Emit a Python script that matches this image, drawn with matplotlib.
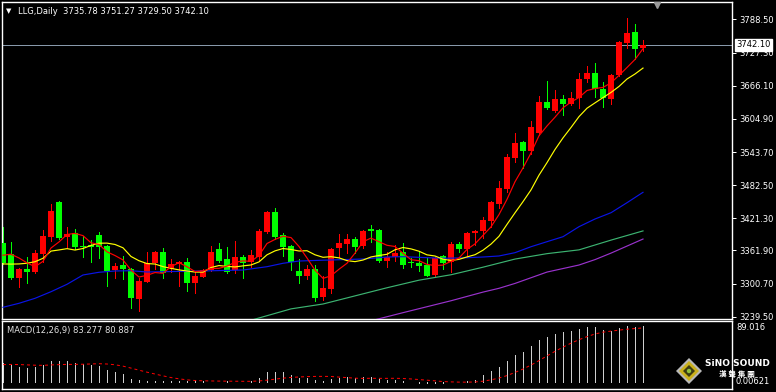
import numpy as np
import pandas as pd
import matplotlib
matplotlib.use("Agg")
import matplotlib.pyplot as plt
from matplotlib.patches import Polygon, Circle
from matplotlib.transforms import blended_transform_factory

# daily candles, LLG (red = up, green = down)
opens = [3376.2, 3354.8, 3311.6, 3328.2, 3322.7, 3355.9, 3387.3, 3452.0, 3387.3, 3393.6,
         3370.1, 3372.0, 3390.5, 3370.1, 3325.8, 3335.0, 3327.7, 3272.2, 3304.2, 3338.2,
         3359.1, 3327.7, 3336.9, 3340.6, 3302.4, 3313.4, 3325.8, 3364.6, 3346.1, 3325.8,
         3349.8, 3341.1, 3350.4, 3396.5, 3432.4, 3390.5, 3370.1, 3324.0, 3315.3, 3327.7,
         3275.4, 3290.7, 3367.0, 3373.8, 3382.5, 3370.7, 3401.5, 3399.7, 3342.4, 3350.4,
         3359.6, 3341.1, 3339.3, 3335.0, 3316.6, 3351.7, 3341.1, 3373.8, 3364.0, 3393.6,
         3397.8, 3416.3, 3447.7, 3474.9, 3533.2, 3562.8, 3545.6, 3578.3, 3636.7, 3619.5,
         3641.6, 3632.4, 3642.9, 3678.6, 3690.2, 3660.1, 3641.6, 3686.0, 3745.6, 3764.8,
         3735.78]
highs = [3405.8, 3378.1, 3330.0, 3350.4, 3362.7, 3399.7, 3447.7, 3453.3, 3405.8, 3401.5,
         3388.6, 3381.2, 3396.6, 3372.0, 3338.2, 3351.7, 3330.1, 3310.5, 3359.6, 3360.9,
         3365.9, 3346.1, 3342.4, 3347.4, 3324.0, 3327.1, 3370.1, 3376.2, 3368.8, 3379.4,
         3353.5, 3362.7, 3401.0, 3435.3, 3439.8, 3394.7, 3372.0, 3345.6, 3335.0, 3335.0,
         3314.7, 3366.0, 3392.3, 3392.3, 3387.3, 3399.7, 3408.9, 3401.0, 3359.6, 3372.0,
         3376.2, 3347.4, 3359.6, 3347.4, 3350.4, 3353.5, 3378.1, 3378.1, 3396.6, 3399.7,
         3423.2, 3453.0, 3490.2, 3540.1, 3578.3, 3564.0, 3601.6, 3647.2, 3674.9, 3658.3,
         3649.0, 3655.1, 3689.1, 3703.2, 3708.7, 3672.5, 3687.0, 3748.8, 3791.8, 3780.2,
         3751.27]
lows = [3337.0, 3308.6, 3295.0, 3302.4, 3321.0, 3341.1, 3379.9, 3383.0, 3365.9, 3364.0,
        3349.3, 3341.1, 3347.4, 3296.8, 3311.6, 3309.2, 3255.1, 3250.6, 3303.1, 3327.7,
        3310.5, 3322.7, 3296.8, 3287.6, 3283.9, 3312.3, 3324.0, 3341.1, 3320.8, 3320.8,
        3310.5, 3331.9, 3344.3, 3393.6, 3382.5, 3352.2, 3325.8, 3302.4, 3308.6, 3268.5,
        3270.4, 3282.8, 3350.4, 3356.7, 3356.7, 3365.9, 3378.1, 3341.1, 3331.9, 3343.0,
        3330.1, 3331.9, 3324.0, 3314.0, 3313.4, 3327.1, 3322.7, 3359.6, 3350.4, 3372.0,
        3384.4, 3405.8, 3439.8, 3470.4, 3525.8, 3513.6, 3540.1, 3575.2, 3624.0, 3618.2,
        3612.1, 3630.6, 3625.6, 3673.6, 3645.9, 3627.4, 3631.9, 3685.0, 3735.8, 3715.5,
        3729.50]
closes = [3339.3, 3311.6, 3328.2, 3322.7, 3357.8, 3388.6, 3434.8, 3384.4, 3391.7, 3367.7,
          3367.7, 3368.8, 3368.8, 3324.0, 3333.2, 3327.1, 3274.6, 3305.5, 3339.3, 3359.1,
          3319.7, 3336.9, 3341.1, 3302.4, 3314.7, 3325.3, 3359.1, 3343.0, 3322.7, 3349.8,
          3339.3, 3353.5, 3397.8, 3433.5, 3387.3, 3368.8, 3341.1, 3315.3, 3327.7, 3274.6,
          3293.1, 3364.6, 3376.2, 3382.5, 3368.8, 3397.8, 3398.4, 3342.4, 3349.8, 3357.8,
          3335.0, 3339.3, 3333.2, 3315.3, 3347.4, 3339.3, 3373.8, 3364.0, 3394.7, 3398.4,
          3418.2, 3452.0, 3477.8, 3535.1, 3560.9, 3545.6, 3590.5, 3636.7, 3625.6, 3641.6,
          3632.4, 3644.0, 3678.6, 3690.2, 3659.6, 3642.9, 3686.0, 3747.5, 3763.0, 3734.0,
          3742.10]
# closes before the visible window (for the short averages)
prior_closes = [3315, 3325, 3310, 3330, 3325, 3302, 3363, 3368, 3393]

# longer averages
blue_idx = [0, 2, 4, 6, 8, 10, 12, 14, 16, 18, 20, 25, 30, 33, 35, 37, 40, 45, 48, 50,
            55, 58, 60, 62, 64, 66, 68, 70, 72, 74, 76, 78, 80]
blue_val = [3256.9, 3264.3, 3273.5, 3285.7, 3299.4, 3316.6, 3321.6, 3324.0, 3324.5, 3322.1,
            3322.7, 3324.0, 3325.8, 3331.9, 3338.2, 3342.4, 3343.9, 3346.1, 3349.8, 3350.4,
            3347.4, 3348.5, 3349.8, 3351.7, 3357.8, 3368.8, 3378.1, 3387.3, 3405.8, 3420.0,
            3431.6, 3450.1, 3469.3]
green_idx = [31, 36, 40, 44, 48, 52, 56, 60, 64, 68, 72, 76, 80]
green_val = [3233, 3254, 3263, 3278, 3293, 3307, 3317, 3331, 3346, 3356, 3363, 3381, 3398]
purple_idx = [46, 50, 53, 56, 60, 62, 64, 68, 72, 74, 76, 80]
purple_val = [3232, 3247, 3258, 3269, 3285, 3292, 3301, 3322, 3335, 3345, 3357, 3383]

# MACD(12,26,9) main values
macd = [27.9, 24.2, 21.8, 20.3, 21.8, 24.2, 30.3, 30.3, 30.3, 27.9,
        26.3, 25.3, 23.8, 17.7, 14.2, 11.7, 4.1, 2.0, 1.5, 1.2,
        1.0, 0.8, 0.6, 0.5, 2.6, 0.3, 0.1, -0.3, 0.2, 0.1,
        -0.2, 0.3, 5.1, 13.6, 13.6, 13.6, 9.7, 6.1, 5.0, 2.5,
        1.0, 3.5, 5.5, 6.5, 6.0, 7.0, 7.5, 4.0, 2.5, 2.0,
        0.5, -0.5, -1.5, -2.5, -2.0, -2.0, -0.5, -0.5, 1.5, 3.0,
        10.1, 16.2, 21.8, 31.3, 40.4, 44.5, 53.0, 61.6, 66.2, 70.7,
        73.3, 74.8, 78.3, 80.8, 80.8, 77.2, 75.7, 79.3, 83.4, 82.0,
        83.277]
prior_macd = [22, 23, 25, 26, 26, 25, 26, 27]

price_ticks = [3788.50, 3727.30, 3666.10, 3604.90, 3543.70, 3482.50,
               3421.30, 3361.90, 3300.70, 3239.50]
last_price = 3742.10

W, H = 776, 392
fig = plt.figure(figsize=(W / 100, H / 100), dpi=100, facecolor='black')
plt.rcParams['font.family'] = ['DejaVu Sans']
PX = 0.72  # one pixel in points


def px_axes(x0, y0, x1, y1):
    return fig.add_axes([x0 / W, 1 - y1 / H, (x1 - x0) / W, (y1 - y0) / H])


x = np.arange(len(closes))
o = np.array(opens)
c = np.array(closes)
up = c >= o

ax = px_axes(2, 2, 732, 319)
ax.set_facecolor('black')
ax.set_xlim(-0.125, 91.125)
ax.set_ylim(3235.3, 3820.8)

cols = np.where(up, '#ff0000', '#00ff00')
ax.vlines(x, lows, highs, colors=cols, lw=PX, antialiased=False, zorder=2)
body_lo = np.minimum(o, c)
body_h = np.maximum(np.abs(c - o), 0.9)
ax.bar(x, body_h, bottom=body_lo, width=0.72, color=cols, linewidth=0,
       antialiased=False, zorder=3)

allc = pd.Series(prior_closes + closes)
ma5 = allc.rolling(5).mean().to_numpy()[len(prior_closes):]
ma10 = allc.rolling(10).mean().to_numpy()[len(prior_closes):]
ax.plot(blue_idx, blue_val, color='#0a14e6', lw=0.85, zorder=4)
ax.plot(green_idx, green_val, color='#3cb371', lw=0.85, zorder=4)
ax.plot(purple_idx, purple_val, color='#9932cc', lw=0.85, zorder=4)
ax.plot(x, ma10, color='#ffff00', lw=0.85, zorder=4)
ax.plot(x, ma5, color='#ff0000', lw=0.85, zorder=4)

ax.axhline(last_price, color='#8899aa', lw=PX, zorder=1)

ax.yaxis.tick_right()
ax.set_yticks(price_ticks)
ax.set_yticklabels([f'{t:.2f}' for t in price_ticks])
ax.set_xticks([])
ax.tick_params(axis='y', colors='white', labelsize=6, length=3, width=PX, pad=2)
for s in ax.spines.values():
    s.set_color('white')
    s.set_linewidth(1)

tr = blended_transform_factory(ax.transAxes, ax.transData)
ax.text(1.006, last_price, f'{last_price:.2f}', transform=tr, fontsize=6,
        color='black', va='center', ha='left', zorder=10,
        bbox=dict(boxstyle='square,pad=0.18', fc='white', ec='white'))

# MACD panel
ax2 = px_axes(2, 321, 732, 389)
ax2.set_facecolor('black')
ax2.set_xlim(-0.125, 91.125)
ax2.set_ylim(-11.05, 90.4)
ax2.vlines(x, 0, macd, colors='#cfcfcf', lw=PX, antialiased=False)
allm = pd.Series(prior_macd + macd)
signal = allm.rolling(9).mean().to_numpy()[len(prior_macd):]
ax2.plot(x, signal, color='#ff0000', lw=PX, linestyle=(0, (3, 3)))
ax2.set_xticks([])
ax2.set_yticks([])
for s in ax2.spines.values():
    s.set_color('white')
    s.set_linewidth(1)

# overlay in pixel coordinates for captions and logo
ov = fig.add_axes([0, 0, 1, 1])
ov.set_xlim(0, W)
ov.set_ylim(H, 0)
ov.axis('off')

ov.text(6, 11, '\u25bc', fontsize=5, color='white', va='center', ha='left')
ov.text(18, 11, 'LLG,Daily  3735.78 3751.27 3729.50 3742.10', fontsize=6,
        color='white', va='center', ha='left')
ov.text(7, 330, 'MACD(12,26,9) 83.277 80.887', fontsize=6, color='#e0e0e0',
        va='center', ha='left')
ov.text(736, 328, '89.016', fontsize=6, color='white', va='center', ha='left')
ov.text(736, 382, '0.00621', fontsize=6, color='white', va='center', ha='left')
ov.plot([657], [5], marker='v', markersize=5, color='#9a9a9a', linestyle='none')

# logo
cx, cy = 689, 371
ov.add_patch(Polygon([[cx, cy - 13], [cx + 13, cy], [cx, cy + 13], [cx - 13, cy]],
                     closed=True, fc='#b8b8b8', ec='none'))
ov.add_patch(Polygon([[cx, cy - 10], [cx + 10, cy], [cx, cy + 10], [cx - 10, cy]],
                     closed=True, fc='#c9b01a', ec='none'))
ov.add_patch(Polygon([[cx, cy - 6], [cx + 6, cy], [cx, cy + 6], [cx - 6, cy]],
                     closed=True, fc='#3b3a12', ec='none'))
ov.add_patch(Circle((cx, cy), 2.2, fc='#8fbf3a', ec='none'))
ov.text(737, 364, 'SiNO SOUND', fontsize=6.5, fontweight='bold', color='white',
        va='center', ha='center')
ov.text(737, 374, '漢 聲 集 團', fontsize=5.5, fontweight='bold', color='white',
        va='center', ha='center', family=['Noto Sans CJK TC', 'DejaVu Sans'])

fig.savefig('out.png', dpi=100, facecolor='black')
